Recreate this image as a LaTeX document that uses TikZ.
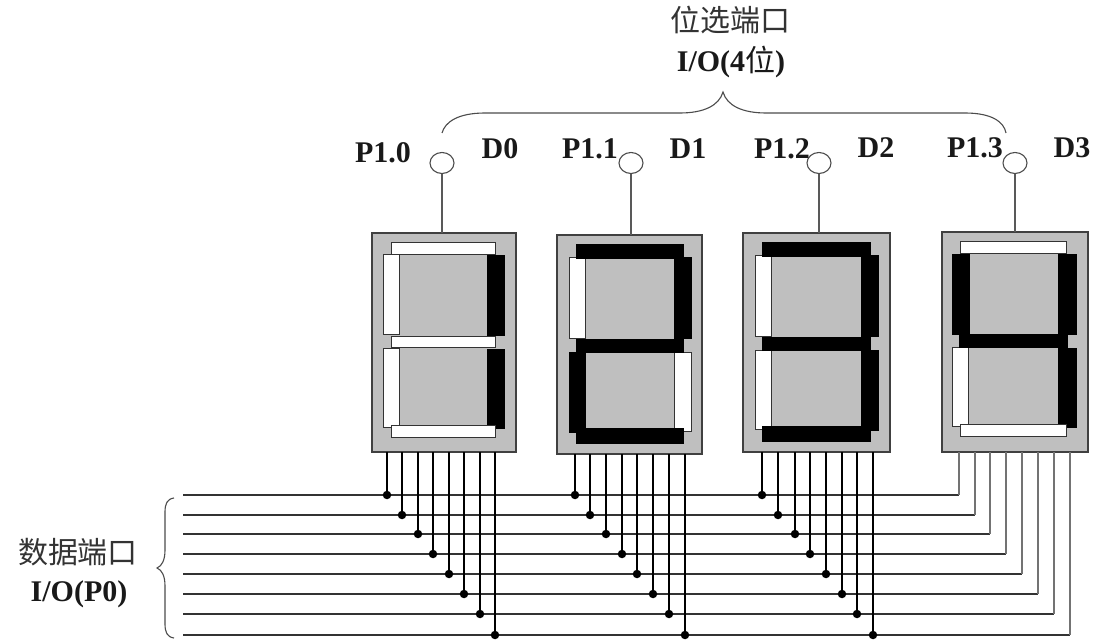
\documentclass[tikz,border=0pt]{standalone}
\usepackage{fontspec}
\setmainfont{Liberation Serif}
\newfontfamily\cjk{Noto Sans CJK SC}
\usetikzlibrary{shapes.geometric}
\tikzset{
  x=1pt,y=-1pt,
  lbl/.style={font=\fontsize{30}{32}\selectfont\bfseries,inner sep=0,text=black!90},
  cjklbl/.style={font=\fontsize{30}{32}\selectfont\cjk,inner sep=0,text=black!80},
  pack/.style={draw=black!75,line width=1.3pt,fill=black!25},
  vb/.style={draw=black,fill=black,line width=.8pt},
  hb/.style={draw=black,fill=black,line width=3pt},
  segoff/.style={draw=black!80,fill=white,line width=1pt},
  dot/.style={circle,fill=black,inner sep=0,minimum size=8.5pt},
  ring/.style={ellipse,draw=black!70,line width=1.1pt,fill=white,minimum width=24pt,minimum height=21pt,inner sep=0},
  bus/.style={draw=black!80,line width=1.5pt},
  pin/.style={draw=black,line width=2.8pt},
  lead/.style={draw=black!55,line width=1.4pt},
  stem/.style={draw=black!65,line width=1.1pt},
  bracel/.style={draw=black!70,line width=1.1pt},
}
% styles of: top, upper right, lower right, bottom, lower left, upper left
\newcommand{\segments}[6]{%
  \path[#6] (0,22) rectangle (16.5,102);
  \path[#2] (104,22) rectangle (121,102);
  \path[#5] (0,116) rectangle (16.5,195);
  \path[#3] (104,116) rectangle (121,195);
  \path[#1] (8.5,10) rectangle (112,22);
  \path[#4] (8.5,193) rectangle (112,205);}
\begin{document}
\begin{tikzpicture}
\useasboundingbox (0,0) rectangle (1120,644);
\fill[white] (0,0) rectangle (1120,644);
% packages
\path[pack] (372,233) rectangle (516,452);
\path[pack] (557,235) rectangle (702,454);
\path[pack] (743,233) rectangle (890,452);
\path[pack] (942,232) rectangle (1088,452);
% display 1
\begin{scope}[shift={(383,233)}]
  \segments{segoff}{vb}{vb}{segoff}{segoff}{segoff}
  \path[segoff] (8.5,104) rectangle (112,115);
\end{scope}
% display 2
\begin{scope}[shift={(569,235)},xscale=1.01,yscale=1.01]
  \segments{hb}{vb}{segoff}{hb}{vb}{segoff}
  \path[hb] (8.5,104) rectangle (112,115);
\end{scope}
% display 3
\begin{scope}[shift={(755,233)},xscale=1.02,yscale=1.01]
  \segments{hb}{vb}{vb}{hb}{segoff}{segoff}
  \path[hb] (8.5,104) rectangle (112,115);
\end{scope}
% display 4
\begin{scope}[shift={(952,232)},xscale=1.025]
  \segments{segoff}{vb}{vb}{segoff}{segoff}{vb}
  \path[hb] (8.5,104) rectangle (112,115);
\end{scope}
\coordinate (t0) at (442,233); \coordinate (t1) at (631,235);
\coordinate (t2) at (819,233); \coordinate (t3) at (1015,232);
\foreach \i/\x in {0/442,1/631,2/819,3/1015}{
  \node[ring] (r\i) at (\x,163) {};
  \draw[stem] (r\i) -- (t\i);
}
% buses
\foreach \k/\y/\xe in {1/495/959,2/515/975,3/534/990,4/554/1006,5/574/1022,6/594/1038,7/614/1054,8/635/1070}{
  \coordinate (bs\k) at (183,\y);
  \coordinate (be\k) at (\xe,\y);
  \coordinate (bt\k) at (\xe,452);
  \draw[bus] (bs\k) -- (be\k);
  \draw[lead] (be\k) -- (bt\k);
}
% pins
\foreach \k/\xa/\xb/\xc/\y in {1/387/575/762/495,2/402/590/778/515,3/418/606/795/534,4/433/622/810/554,5/449/637/826/574,6/464/653/842/594,7/480/669/857/614,8/495/685/873/635}{
  \node[dot] (da\k) at (\xa,\y) {};
  \node[dot] (db\k) at (\xb,\y) {};
  \node[dot] (dc\k) at (\xc,\y) {};
  \coordinate (pa\k) at (\xa,452); \coordinate (pb\k) at (\xb,454); \coordinate (pc\k) at (\xc,452);
  \draw[pin] (pa\k) -- (da\k.center);
  \draw[pin] (pb\k) -- (db\k.center);
  \draw[pin] (pc\k) -- (dc\k.center);
}
% braces
\draw[bracel] (442,133) .. controls (445,122) and (458,113) .. (485,113) -- (680,113) .. controls (703,113) and (719,106) .. (723,92) .. controls (727,106) and (743,113) .. (766,113) -- (965,113) .. controls (992,113) and (1004,122) .. (1006,133);
\draw[bracel] (174,498) .. controls (167,499) and (165,504) .. (165,512) -- (165,550) .. controls (165,560) and (162,566) .. (157,568) .. controls (162,570) and (165,576) .. (165,586) -- (165,624) .. controls (165,632) and (167,637) .. (174,638);
% labels
\node[lbl] (l0) at (383,153) {P1.0};
\node[lbl] (d0) at (500,149) {D0};
\node[lbl] (l1) at (590,149) {P1.1};
\node[lbl] (d1) at (688,149) {D1};
\node[lbl] (l2) at (782,149) {P1.2};
\node[lbl] (d2) at (876,148) {D2};
\node[lbl] (l3) at (975,148) {P1.3};
\node[lbl] (d3) at (1072,148) {D3};
\node[cjklbl] (tc) at (730,20) {位选端口};
\node[lbl] (tio) at (731,62) {I/O(4{\cjk\mdseries 位})};
\node[cjklbl] (lc) at (78,552) {数据端口};
\node[lbl] (lio) at (79,594) {I/O(P0)};
\end{tikzpicture}
\end{document}
